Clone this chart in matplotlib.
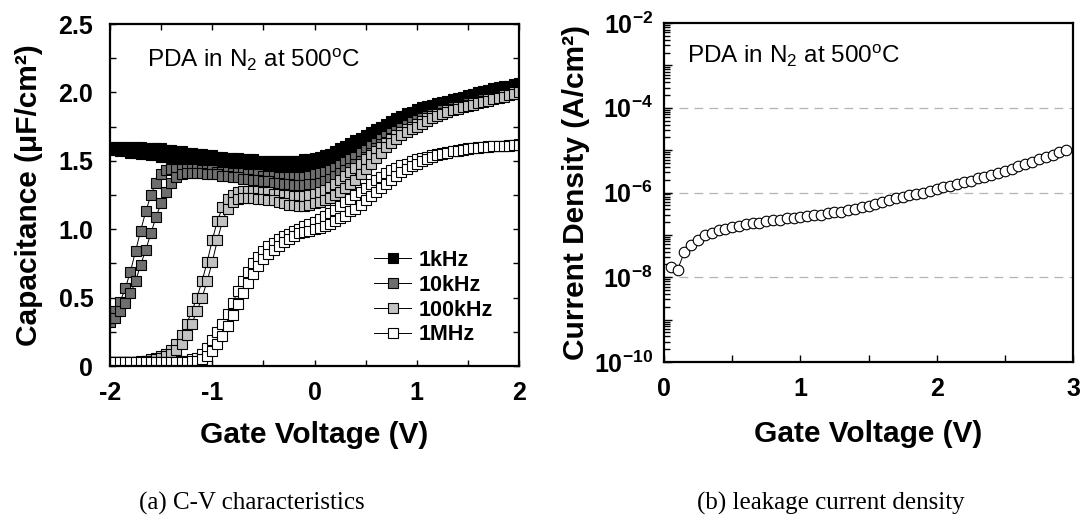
import numpy as np
import matplotlib
matplotlib.use('Agg')
import matplotlib.pyplot as plt
from matplotlib.ticker import MultipleLocator, FixedLocator, FixedFormatter, LogLocator, FuncFormatter, NullFormatter

plt.rcParams['font.family'] = ['Liberation Sans', 'DejaVu Sans']
plt.rcParams['mathtext.fontset'] = 'custom'
plt.rcParams['mathtext.rm'] = 'Liberation Sans'
plt.rcParams['mathtext.bf'] = 'Liberation Sans:bold'
plt.rcParams['mathtext.it'] = 'Liberation Sans:italic'
plt.rcParams['axes.unicode_minus'] = False

# ---------------- data: C-V (a) ----------------
gate_v_cv = [-2.00, -1.95, -1.90, -1.85, -1.80, -1.75, -1.70, -1.65, -1.60, -1.55, -1.50,
             -1.45, -1.40, -1.35, -1.30, -1.25, -1.20, -1.15, -1.10, -1.05, -1.00,
             -0.95, -0.90, -0.85, -0.80, -0.75, -0.70, -0.65, -0.60, -0.55, -0.50,
             -0.45, -0.40, -0.35, -0.30, -0.25, -0.20, -0.15, -0.10, -0.05, 0.00,
             0.05, 0.10, 0.15, 0.20, 0.25, 0.30, 0.35, 0.40, 0.45, 0.50,
             0.55, 0.60, 0.65, 0.70, 0.75, 0.80, 0.85, 0.90, 0.95, 1.00,
             1.05, 1.10, 1.15, 1.20, 1.25, 1.30, 1.35, 1.40, 1.45, 1.50,
             1.55, 1.60, 1.65, 1.70, 1.75, 1.80, 1.85, 1.90, 1.95, 2.00]

cap_1khz_up = [1.60, 1.60, 1.60, 1.60, 1.60, 1.60, 1.60, 1.59, 1.59, 1.59, 1.59,
               1.58, 1.58, 1.57, 1.57, 1.56, 1.56, 1.55, 1.55, 1.54, 1.54,
               1.53, 1.53, 1.52, 1.52, 1.52, 1.51, 1.51, 1.51, 1.50, 1.50,
               1.50, 1.50, 1.50, 1.50, 1.50, 1.50, 1.50, 1.51, 1.51, 1.52,
               1.53, 1.54, 1.55, 1.57, 1.59, 1.61, 1.63, 1.65, 1.67, 1.69,
               1.71, 1.73, 1.75, 1.77, 1.79, 1.81, 1.83, 1.85, 1.86, 1.88,
               1.89, 1.90, 1.91, 1.92, 1.93, 1.94, 1.95, 1.96, 1.97, 1.98,
               1.99, 2.00, 2.01, 2.02, 2.03, 2.04, 2.05, 2.05, 2.06, 2.07]
cap_1khz_dn = [1.58, 1.58, 1.57, 1.57, 1.56, 1.56, 1.55, 1.55, 1.54, 1.54, 1.53,
               1.53, 1.52, 1.52, 1.51, 1.51, 1.50, 1.50, 1.49, 1.49, 1.48,
               1.48, 1.48, 1.47, 1.47, 1.47, 1.46, 1.46, 1.46, 1.46, 1.45,
               1.45, 1.45, 1.45, 1.45, 1.45, 1.45, 1.45, 1.45, 1.45, 1.46,
               1.47, 1.48, 1.49, 1.50, 1.51, 1.52, 1.54, 1.56, 1.58, 1.60,
               1.62, 1.64, 1.66, 1.68, 1.70, 1.72, 1.74, 1.76, 1.78, 1.80,
               1.82, 1.84, 1.85, 1.87, 1.88, 1.90, 1.91, 1.92, 1.93, 1.94,
               1.95, 1.96, 1.97, 1.98, 1.99, 2.00, 2.01, 2.02, 2.03, 2.04]
cap_10khz_up = [0.35, 0.40, 0.47, 0.57, 0.69, 0.84, 0.99, 1.13, 1.25, 1.34, 1.40,
                1.43, 1.44, 1.44, 1.44, 1.44, 1.44, 1.44, 1.43, 1.43, 1.43,
                1.42, 1.42, 1.42, 1.41, 1.41, 1.41, 1.40, 1.40, 1.40, 1.39,
                1.39, 1.39, 1.38, 1.38, 1.38, 1.38, 1.38, 1.38, 1.39, 1.40,
                1.41, 1.42, 1.43, 1.45, 1.47, 1.49, 1.51, 1.53, 1.56, 1.58,
                1.61, 1.63, 1.66, 1.68, 1.70, 1.72, 1.74, 1.76, 1.78, 1.80,
                1.81, 1.83, 1.84, 1.85, 1.87, 1.88, 1.89, 1.90, 1.91, 1.92,
                1.93, 1.94, 1.95, 1.96, 1.97, 1.97, 1.98, 1.99, 2.00, 2.01]
cap_10khz_dn = [0.32, 0.35, 0.40, 0.46, 0.53, 0.62, 0.74, 0.85, 0.97, 1.09, 1.19,
                1.27, 1.34, 1.38, 1.40, 1.41, 1.41, 1.41, 1.41, 1.40, 1.40,
                1.40, 1.39, 1.39, 1.38, 1.38, 1.37, 1.37, 1.36, 1.36, 1.35,
                1.35, 1.34, 1.34, 1.33, 1.33, 1.32, 1.32, 1.32, 1.33, 1.33,
                1.34, 1.35, 1.37, 1.39, 1.41, 1.43, 1.45, 1.48, 1.50, 1.53,
                1.56, 1.59, 1.62, 1.64, 1.67, 1.69, 1.71, 1.73, 1.75, 1.77,
                1.79, 1.81, 1.82, 1.84, 1.85, 1.86, 1.88, 1.89, 1.90, 1.91,
                1.92, 1.93, 1.94, 1.95, 1.96, 1.97, 1.98, 1.99, 1.99, 2.00]
cap_100khz_up = [0.03, 0.03, 0.03, 0.03, 0.03, 0.03, 0.04, 0.04, 0.05, 0.06, 0.07,
                 0.09, 0.12, 0.16, 0.23, 0.31, 0.40, 0.50, 0.62, 0.76, 0.92,
                 1.06, 1.16, 1.22, 1.25, 1.27, 1.28, 1.28, 1.28, 1.28, 1.27,
                 1.27, 1.26, 1.26, 1.25, 1.25, 1.24, 1.24, 1.24, 1.25, 1.26,
                 1.27, 1.29, 1.31, 1.33, 1.36, 1.39, 1.42, 1.45, 1.48, 1.51,
                 1.54, 1.57, 1.60, 1.63, 1.66, 1.69, 1.71, 1.73, 1.75, 1.77,
                 1.79, 1.81, 1.83, 1.84, 1.85, 1.87, 1.88, 1.89, 1.90, 1.91,
                 1.92, 1.93, 1.94, 1.95, 1.96, 1.97, 1.98, 1.99, 2.00, 2.01]
cap_100khz_dn = [0.03, 0.03, 0.03, 0.03, 0.03, 0.03, 0.03, 0.04, 0.04, 0.05, 0.06,
                 0.07, 0.09, 0.12, 0.16, 0.23, 0.31, 0.40, 0.50, 0.62, 0.76,
                 0.92, 1.06, 1.15, 1.20, 1.22, 1.23, 1.23, 1.23, 1.22, 1.22,
                 1.21, 1.21, 1.20, 1.19, 1.18, 1.18, 1.17, 1.17, 1.18, 1.19,
                 1.20, 1.21, 1.23, 1.25, 1.27, 1.30, 1.33, 1.36, 1.40, 1.44,
                 1.48, 1.52, 1.56, 1.60, 1.63, 1.66, 1.69, 1.71, 1.73, 1.75,
                 1.77, 1.79, 1.81, 1.83, 1.84, 1.86, 1.87, 1.88, 1.89, 1.90,
                 1.91, 1.92, 1.93, 1.94, 1.95, 1.96, 1.97, 1.98, 1.99, 2.00]
cap_1mhz_up = [0.03, 0.03, 0.03, 0.03, 0.03, 0.03, 0.03, 0.03, 0.03, 0.03, 0.03,
               0.03, 0.03, 0.03, 0.04, 0.04, 0.05, 0.06, 0.09, 0.13, 0.19,
               0.25, 0.31, 0.38, 0.46, 0.55, 0.62, 0.69, 0.75, 0.80, 0.84,
               0.875, 0.90, 0.925, 0.95, 0.965, 0.985, 1.00, 1.02, 1.04, 1.05,
               1.075, 1.10, 1.12, 1.14, 1.17, 1.20, 1.22, 1.25, 1.27, 1.30,
               1.33, 1.36, 1.38, 1.41, 1.43, 1.45, 1.47, 1.48, 1.50, 1.51,
               1.52, 1.53, 1.54, 1.55, 1.56, 1.565, 1.57, 1.58, 1.585, 1.59,
               1.595, 1.60, 1.60, 1.605, 1.61, 1.61, 1.61, 1.615, 1.615, 1.62]
cap_1mhz_dn = [0.03, 0.03, 0.03, 0.03, 0.03, 0.03, 0.03, 0.03, 0.03, 0.03, 0.03,
               0.03, 0.03, 0.03, 0.03, 0.03, 0.04, 0.04, 0.05, 0.07, 0.11,
               0.16, 0.22, 0.29, 0.37, 0.45, 0.53, 0.61, 0.67, 0.73, 0.78,
               0.82, 0.85, 0.88, 0.91, 0.93, 0.95, 0.97, 0.98, 0.99, 1.00,
               1.01, 1.02, 1.04, 1.06, 1.08, 1.10, 1.13, 1.15, 1.18, 1.21,
               1.24, 1.27, 1.30, 1.33, 1.36, 1.39, 1.42, 1.44, 1.46, 1.48,
               1.50, 1.51, 1.53, 1.54, 1.55, 1.56, 1.57, 1.575, 1.58, 1.585,
               1.59, 1.595, 1.60, 1.60, 1.605, 1.61, 1.61, 1.61, 1.615, 1.615]

freq_labels = ['1kHz', '10kHz', '100kHz', '1MHz']
cv_x_ticklabels = ['-2', '-1', '0', '1', '2']
cv_y_ticklabels = ['0', '0.5', '1.0', '1.5', '2.0', '2.5']

# ---------------- data: J-V (b) ----------------
gate_v_iv = [0.05, 0.10, 0.15, 0.20, 0.25, 0.30, 0.35, 0.40, 0.45, 0.50,
             0.55, 0.60, 0.65, 0.70, 0.75, 0.80, 0.85, 0.90, 0.95, 1.00,
             1.05, 1.10, 1.15, 1.20, 1.25, 1.30, 1.35, 1.40, 1.45, 1.50,
             1.55, 1.60, 1.65, 1.70, 1.75, 1.80, 1.85, 1.90, 1.95, 2.00,
             2.05, 2.10, 2.15, 2.20, 2.25, 2.30, 2.35, 2.40, 2.45, 2.50,
             2.55, 2.60, 2.65, 2.70, 2.75, 2.80, 2.85, 2.90, 2.95]
current_density = [1.74e-8, 1.51e-8, 3.98e-8, 5.75e-8, 7.59e-8, 9.77e-8, 1.12e-7, 1.29e-7, 1.41e-7, 1.55e-7,
                   1.62e-7, 1.78e-7, 1.86e-7, 1.95e-7, 2.09e-7, 2.24e-7, 2.29e-7, 2.45e-7, 2.51e-7, 2.69e-7,
                   2.75e-7, 2.88e-7, 3.02e-7, 3.24e-7, 3.39e-7, 3.47e-7, 3.80e-7, 3.98e-7, 4.47e-7, 4.90e-7,
                   5.37e-7, 6.03e-7, 6.76e-7, 7.41e-7, 7.94e-7, 8.51e-7, 9.12e-7, 9.77e-7, 1.07e-6, 1.20e-6,
                   1.32e-6, 1.45e-6, 1.58e-6, 1.74e-6, 1.91e-6, 2.14e-6, 2.34e-6, 2.57e-6, 2.88e-6, 3.24e-6,
                   3.63e-6, 4.17e-6, 4.68e-6, 5.25e-6, 6.03e-6, 6.76e-6, 7.76e-6, 8.91e-6, 1.02e-5]
grid_levels = [1e-8, 1e-6, 1e-4]

# ---------------- figure ----------------
W, H = 1089, 524
fig = plt.figure(figsize=(W / 100, H / 100), dpi=100)
ax1 = fig.add_axes([110 / W, 1 - 366 / H, 409 / W, 342 / H])
ax2 = fig.add_axes([664 / W, 1 - 362 / H, 409 / W, 339 / H])

tick_fs = 18
label_fs = 21.5

# ---- (a) C-V ----
series = [
    (cap_1khz_up, cap_1khz_dn, 'black'),
    (cap_10khz_up, cap_10khz_dn, '#6e6e6e'),
    (cap_100khz_up, cap_100khz_dn, '#c2c2c2'),
    (cap_1mhz_up, cap_1mhz_dn, 'white'),
]
handles = []
for (up, dn, fc), lab in zip(series, freq_labels):
    for k, branch in enumerate((up, dn)):
        ln, = ax1.plot(gate_v_cv, branch, marker='s', ms=7.0, mfc=fc, mec='black',
                       mew=0.8, color='black', lw=0.7)
        if k == 0:
            handles.append(ln)

ax1.set_xlim(-2, 2)
ax1.set_ylim(0, 2.5)
ax1.xaxis.set_major_locator(FixedLocator([-2, -1, 0, 1, 2]))
ax1.xaxis.set_major_formatter(FixedFormatter(cv_x_ticklabels))
ax1.xaxis.set_minor_locator(MultipleLocator(0.5))
ax1.yaxis.set_major_locator(FixedLocator([0, 0.5, 1.0, 1.5, 2.0, 2.5]))
ax1.yaxis.set_major_formatter(FixedFormatter(cv_y_ticklabels))
ax1.yaxis.set_minor_locator(MultipleLocator(0.25))
ax1.tick_params(which='both', direction='in', top=True, right=True, length=4, width=1.0)
ax1.tick_params(axis='x', which='major', pad=11, labelsize=tick_fs)
ax1.tick_params(axis='y', which='major', pad=12, labelsize=tick_fs)
for lbl in ax1.get_xticklabels() + ax1.get_yticklabels():
    lbl.set_fontweight('bold')
for sp in ax1.spines.values():
    sp.set_linewidth(1.6)

ax1.set_xlabel('Gate Voltage (V)', fontsize=label_fs, fontweight='bold')
ax1.set_ylabel('Capacitance (μF/cm²)', fontsize=label_fs, fontweight='bold')
ax1.xaxis.set_label_coords(0.5, -0.16)
ax1.yaxis.set_label_coords(-0.165, 0.5)

ax1.text(0.09, 0.874, r'PDA in N$_2$ at 500$^{\mathregular{o}}$C', transform=ax1.transAxes,
         fontsize=17.5, ha='left', va='baseline')

leg = ax1.legend(handles, freq_labels, loc='lower left', bbox_to_anchor=(0.645, 0.06),
                 frameon=False, prop={'weight': 'bold', 'size': 15.5},
                 handlelength=1.75, handletextpad=0.35, labelspacing=0.18,
                 borderpad=0, borderaxespad=0)

# ---- (b) J-V ----
for g in grid_levels:
    ax2.axhline(g, color='#b4b4b4', lw=0.9, dashes=(7, 5), zorder=0)
ax2.plot(gate_v_iv, current_density, marker='o', ms=7.6, mfc='white', mec='black',
         mew=0.8, color='black', lw=0.7, zorder=3)
ax2.set_yscale('log')
ax2.set_xlim(0, 3)
ax2.set_ylim(1e-10, 1e-2)
ax2.xaxis.set_major_locator(FixedLocator([0, 1, 2, 3]))
ax2.xaxis.set_major_formatter(FixedFormatter(['0', '1', '2', '3']))
ax2.xaxis.set_minor_locator(MultipleLocator(0.5))
ax2.yaxis.set_major_locator(LogLocator(base=10, numticks=30))
ax2.yaxis.set_minor_locator(LogLocator(base=10, subs=np.arange(2, 10), numticks=30))
ax2.yaxis.set_minor_formatter(NullFormatter())


def log_fmt(y, pos):
    e = int(round(np.log10(y)))
    if e % 2 != 0:
        return ''
    return r'$\mathbf{10^{%d}}$' % e


ax2.yaxis.set_major_formatter(FuncFormatter(log_fmt))
ax2.tick_params(which='both', direction='in', top=False, right=False, width=1.0)
ax2.tick_params(axis='x', which='both', length=5)
ax2.tick_params(axis='y', which='major', length=6)
ax2.tick_params(axis='y', which='minor', length=4)
ax2.tick_params(axis='x', which='major', pad=11, labelsize=tick_fs)
ax2.tick_params(axis='y', which='major', pad=8, labelsize=tick_fs)
for lbl in ax2.get_xticklabels():
    lbl.set_fontweight('bold')
for sp in ax2.spines.values():
    sp.set_linewidth(1.6)

ax2.set_xlabel('Gate Voltage (V)', fontsize=label_fs, fontweight='bold')
ax2.set_ylabel('Current Density (A/cm²)', fontsize=label_fs, fontweight='bold')
ax2.xaxis.set_label_coords(0.5, -0.171)
ax2.yaxis.set_label_coords(-0.18, 0.5)

ax2.text(0.056, 0.882, r'PDA in N$_2$ at 500$^{\mathregular{o}}$C', transform=ax2.transAxes,
         fontsize=17.5, ha='left', va='baseline')

# ---- captions ----
fig.text(252 / W, 1 - 503 / H, '(a) C-V characteristics', family='Liberation Serif',
         fontsize=18, ha='center', va='center')
fig.text(831 / W, 1 - 503 / H, '(b) leakage current density', family='Liberation Serif',
         fontsize=18, ha='center', va='center')

fig.savefig('out.png', dpi=100)
